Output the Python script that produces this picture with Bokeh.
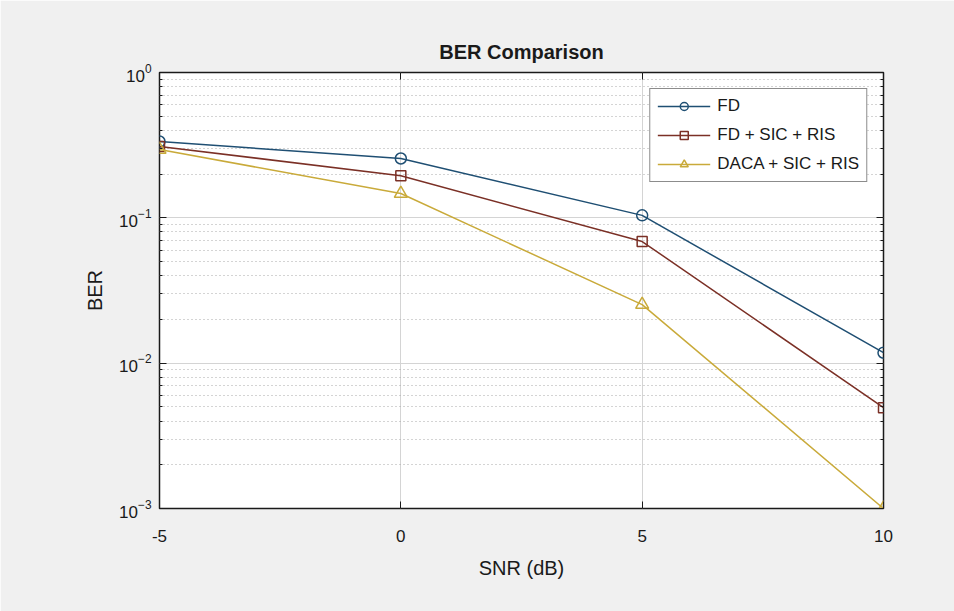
from bokeh.plotting import figure
from bokeh.models import (FixedTicker, LinearAxis, LogAxis, Legend, LegendItem,
                          Range1d, CustomJSTickFormatter)
from bokeh.embed import file_html
from bokeh.resources import INLINE

# ---- data ----
snr_db = [-5, 0, 5, 10]
ber_fd = [0.335, 0.256, 0.104, 0.0118]
ber_fd_sic_ris = [0.31, 0.195, 0.0687, 0.00494]
ber_daca_sic_ris = [0.295, 0.147, 0.0253, 0.001]
series_labels = ["FD", "FD + SIC + RIS", "DACA + SIC + RIS"]
x_ticks = [-5, 0, 5, 10]
x_tick_labels = {-5: "-5", 0: "0", 5: "5", 10: "10"}
y_decades = [-3, -2, -1, 0]

FONT = "Liberation Sans"
TXT = "#1a1a1a"
colors = ["#1f4f73", "#7b3026", "#c9aa3a"]
markers = ["circle", "square", "triangle"]
msizes = [11, 10, 13]

y_major = [10.0 ** e for e in y_decades]
y_minor = [m * 10.0 ** e for e in y_decades[:-1] for m in range(2, 10)]

p = figure(width=954, height=611, y_axis_type="log",
           x_range=Range1d(-5, 10), y_range=Range1d(1e-3, 1),
           output_backend="svg", toolbar_location=None,
           min_border_left=159, min_border_right=71,
           min_border_top=72, min_border_bottom=103,
           background_fill_color="white", border_fill_color="#f0f0f0",
           title="BER Comparison")

p.title.text_font = FONT
p.title.text_font_size = "20px"
p.title.text_font_style = "bold"
p.title.align = "center"
p.title.text_color = TXT
p.title.standoff = 20

p.outline_line_color = "#1a1a1a"
p.outline_line_width = 1.5

# primary axes
xa = p.xaxis[0]
ya = p.yaxis[0]
xa.ticker = FixedTicker(ticks=x_ticks)
xa.major_label_overrides = x_tick_labels
ya.ticker = FixedTicker(ticks=y_major, minor_ticks=y_minor)
for ax in (xa, ya):
    ax.axis_line_color = None
    ax.major_tick_in = 7
    ax.major_tick_out = 0
    ax.minor_tick_in = 3
    ax.minor_tick_out = 0
    ax.major_tick_line_color = "#1a1a1a"
    ax.minor_tick_line_color = "#1a1a1a"
    ax.major_label_text_font = FONT
    ax.major_label_text_font_size = "17px"
    ax.major_label_text_color = TXT
    ax.axis_label_text_font = FONT
    ax.axis_label_text_font_size = "20px"
    ax.axis_label_text_font_style = "normal"
    ax.axis_label_text_color = TXT
xa.axis_label = "SNR (dB)"
ya.axis_label = "BER"
xa.major_label_standoff = 21
xa.axis_label_standoff = 12
ya.major_label_standoff = 8
ya.axis_label_standoff = 10

# mirrored axes (box on) with ticks only
blank = CustomJSTickFormatter(code="return ''")
top = LinearAxis(ticker=FixedTicker(ticks=x_ticks), formatter=blank)
right = LogAxis(ticker=FixedTicker(ticks=y_major, minor_ticks=y_minor), formatter=blank)
for ax in (top, right):
    ax.axis_line_color = None
    ax.major_tick_in = 7
    ax.major_tick_out = 0
    ax.minor_tick_in = 3
    ax.minor_tick_out = 0
    ax.major_tick_line_color = "#1a1a1a"
    ax.minor_tick_line_color = "#1a1a1a"
    ax.major_label_standoff = 0
p.add_layout(top, "above")
p.add_layout(right, "right")

# grids
p.xgrid.grid_line_color = "#d4d4d4"
p.xgrid.grid_line_width = 1
p.ygrid.grid_line_color = "#d4d4d4"
p.ygrid.grid_line_width = 1.2
p.ygrid.minor_grid_line_color = "#a8a8a8"
p.ygrid.minor_grid_line_dash = "1 3"
p.ygrid.minor_grid_line_width = 1

# series
items = []
for ys, lab, c, mk, ms in zip([ber_fd, ber_fd_sic_ris, ber_daca_sic_ris],
                              series_labels, colors, markers, msizes):
    lr = p.line(snr_db, ys, line_color=c, line_width=1.5)
    sr = p.scatter(snr_db, ys, marker=mk, size=ms, line_color=c,
                   line_width=1.5, fill_color=None)
    items.append(LegendItem(label=lab, renderers=[lr, sr]))

legend = Legend(items=items, location="top_right")
legend.margin = 16
legend.padding = 7
legend.spacing = 9
legend.glyph_width = 53
legend.glyph_height = 20
legend.label_height = 20
legend.label_standoff = 7
legend.label_text_font = FONT
legend.label_text_font_size = "17px"
legend.label_text_color = TXT
legend.border_line_color = "#1a1a1a"
legend.border_line_width = 1.2
legend.background_fill_color = "white"
legend.background_fill_alpha = 1
p.add_layout(legend, "center")

open("out.html", "w").write(file_html(p, INLINE, title="BER Comparison"))
